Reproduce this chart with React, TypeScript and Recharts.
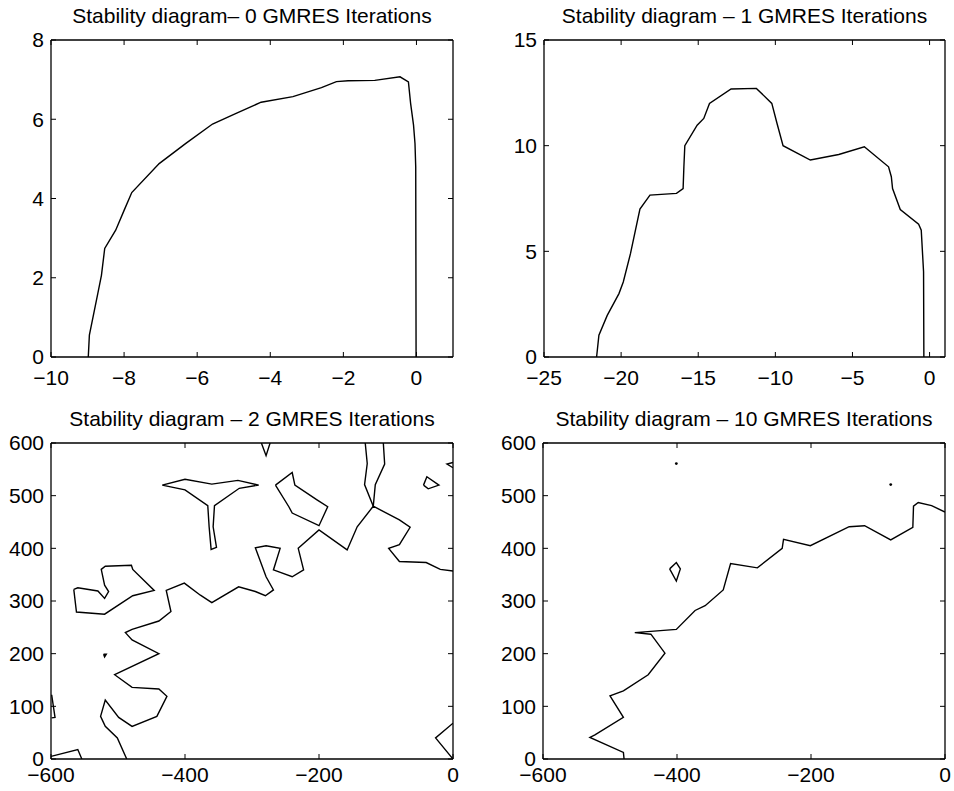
import React from "react";
import { ScatterChart, Scatter, XAxis, YAxis } from "recharts";

type Pt = [number, number];

// 0 GMRES iterations
const P0_X_TICKS = [-10, -8, -6, -4, -2, 0];
const P0_Y_TICKS = [0, 2, 4, 6, 8];
const P0_CURVE: Pt[] = [
  [-8.98, 0], [-8.95, 0.55], [-8.72, 1.6], [-8.62, 2.06], [-8.53, 2.74], [-8.23, 3.2],
  [-8.0, 3.7], [-7.79, 4.15], [-7.04, 4.88], [-6.31, 5.39], [-5.58, 5.88], [-4.98, 6.13],
  [-4.25, 6.43], [-3.38, 6.57], [-2.6, 6.8], [-2.19, 6.95], [-1.87, 6.97], [-1.14, 6.98],
  [-0.45, 7.07], [-0.22, 6.94], [-0.16, 6.4], [-0.08, 5.85], [-0.04, 5.39], [-0.02, 4.8],
  [-0.01, 0],
];

// 1 GMRES iteration
const P1_X_TICKS = [-25, -20, -15, -10, -5, 0];
const P1_Y_TICKS = [0, 5, 10, 15];
const P1_CURVE: Pt[] = [
  [-21.59, 0], [-21.44, 1.03], [-20.9, 1.97], [-20.14, 3.0], [-19.86, 3.55], [-19.39, 4.9],
  [-18.78, 7.0], [-18.13, 7.66], [-16.41, 7.74], [-15.98, 7.97], [-15.93, 9.0], [-15.87, 10.0],
  [-15.07, 10.97], [-14.64, 11.29], [-14.27, 12.0], [-12.87, 12.68], [-11.23, 12.71],
  [-10.23, 12.0], [-9.89, 11.05], [-9.5, 10.0], [-7.73, 9.32], [-5.89, 9.58], [-4.23, 9.95],
  [-2.66, 9.0], [-2.48, 8.53], [-2.4, 7.97], [-1.9, 6.98], [-0.71, 6.28], [-0.54, 6.0],
  [-0.39, 4.03], [-0.37, 0],
];

// 2 and 10 GMRES iterations share the same axes
const BIG_X_TICKS = [-600, -400, -200, 0];
const BIG_Y_TICKS = [0, 100, 200, 300, 400, 500, 600];

const P2_MAIN: Pt[] = [
  [-487, 0], [-501, 40], [-519, 62], [-526, 81], [-519, 112], [-499, 79], [-479, 62],
  [-442, 81], [-427, 119], [-439, 133], [-479, 136], [-505, 160], [-439, 200], [-479, 226],
  [-489, 240], [-479, 246], [-439, 262], [-421, 280], [-428, 320], [-401, 334], [-377, 311],
  [-360, 297], [-320, 327], [-295, 318], [-280, 310], [-268, 321], [-279, 346], [-295, 401],
  [-279, 405], [-258, 400], [-268, 359], [-240, 346], [-223, 359], [-231, 400], [-200, 435],
  [-158, 397], [-143, 441], [-119, 480], [-80, 454], [-64, 440], [-80, 407], [-96, 400],
  [-80, 375], [-40, 373], [-19, 360], [0, 357],
];
const P2_SADDLE_A: Pt[] = [[-131, 600], [-128, 561], [-132, 521], [-119, 480]];
const P2_SADDLE_B: Pt[] = [[-104, 600], [-102, 560], [-116, 521], [-119, 480]];
const P2_TOP_V: Pt[] = [[-286, 600], [-279, 576], [-273, 600]];
const P2_Y_SHAPE: Pt[] = [
  [-434, 520], [-400, 531], [-360, 522], [-321, 529], [-290, 520], [-319, 514], [-356, 481],
  [-358, 441], [-353, 402], [-361, 398], [-364, 441], [-366, 481], [-400, 511], [-434, 520],
];
const P2_QUAD: Pt[] = [
  [-265, 520], [-240, 544], [-236, 520], [-203, 492], [-187, 479], [-200, 443], [-240, 467],
  [-245, 479], [-265, 520],
];
const P2_SMALL_TRI: Pt[] = [[-44, 520], [-39, 536], [-21, 520], [-37, 513], [-44, 520]];
const P2_CORNER_TOP: Pt[] = [[0, 563], [-9, 560], [0, 553]];
const P2_LEFT_C: Pt[] = [
  [-566, 322], [-560, 325], [-530, 319], [-520, 305], [-514, 318], [-520, 330], [-525, 360],
  [-519, 366], [-480, 368], [-478, 360], [-446, 320], [-478, 310], [-520, 275], [-562, 279],
  [-566, 322],
];
const P2_TINY: Pt[] = [[-521.5, 199], [-517.5, 199], [-520, 194], [-521.5, 199]];
const P2_LEFT_EDGE: Pt[] = [[-599, 122], [-594, 79], [-599, 78]];
const P2_CORNER_BL: Pt[] = [[-600, 5], [-560, 18], [-554, 0]];
const P2_CORNER_BR: Pt[] = [[0, 68], [-26, 40], [0, 0]];

// 10 GMRES iterations
const P3_MAIN: Pt[] = [
  [-479, 0], [-480, 12.6], [-530, 41], [-522.5, 46], [-480, 79], [-500, 120], [-480, 129.5],
  [-443, 160], [-418, 201], [-439, 237], [-463, 240], [-401, 246], [-373, 282], [-358, 291],
  [-331, 321], [-320, 371], [-280, 363], [-243, 400], [-241, 417], [-201, 405], [-143, 441],
  [-120, 443], [-81, 416], [-48, 440], [-47, 480], [-40, 487], [-20, 481], [0, 469],
];
const P3_DIAMOND: Pt[] = [[-411, 361], [-401, 373], [-395, 361], [-401, 338], [-411, 361]];
const P3_DOTS: Pt[] = [[-401, 561], [-81, 521]];

const P0_LINES = [P0_CURVE];
const P1_LINES = [P1_CURVE];
const P2_LINES = [
  P2_MAIN, P2_SADDLE_A, P2_SADDLE_B, P2_TOP_V, P2_Y_SHAPE, P2_QUAD, P2_SMALL_TRI,
  P2_CORNER_TOP, P2_LEFT_C, P2_TINY, P2_LEFT_EDGE, P2_CORNER_BL, P2_CORNER_BR,
];
const P3_LINES = [P3_MAIN, P3_DIAMOND];

const FONT = "'Liberation Sans', Arial, Helvetica, sans-serif";
const FS = 21;
const TICK_LEN = 5;
const Y_GAP = 7;
const AXIS = { stroke: "#000", strokeWidth: 1.3 };

const fmt = (v: number) => (v < 0 ? `\u2212${Math.abs(v)}` : `${v}`);
const toObj = (pts: Pt[]) => pts.map(([x, y]) => ({ x, y }));
const noShape = () => <g />;
const dotShape = (p: any) => <circle cx={p.cx} cy={p.cy} r={1.4} fill="#000" />;

// matlab style: ticks point into the box
const bottomTick = (gap: number) => (p: any) => (
  <g>
    <line x1={p.x} x2={p.x} y1={p.y - gap} y2={p.y - gap - TICK_LEN} stroke="#000" />
    <text x={p.x} y={p.y} dy="0.71em" textAnchor="middle" fill="#000" fontSize={FS} fontFamily={FONT}>
      {fmt(p.payload.value)}
    </text>
  </g>
);
const leftTick = (p: any) => (
  <g>
    <line x1={p.x + Y_GAP} x2={p.x + Y_GAP + TICK_LEN} y1={p.y} y2={p.y} stroke="#000" />
    <text x={p.x} y={p.y} dy="0.355em" textAnchor="end" fill="#000" fontSize={FS} fontFamily={FONT}>
      {fmt(p.payload.value)}
    </text>
  </g>
);
const topTick = (p: any) => <line x1={p.x} x2={p.x} y1={p.y} y2={p.y + TICK_LEN} stroke="#000" />;
const rightTick = (p: any) => <line x1={p.x} x2={p.x - TICK_LEN} y1={p.y} y2={p.y} stroke="#000" />;

interface PanelProps {
  title: string;
  xDomain: [number, number];
  xTicks: number[];
  yDomain: [number, number];
  yTicks: number[];
  lines: Pt[][];
  dots?: Pt[];
  left: number;
  top: number;
  w: number;
  h: number;
  yAxisW: number;
  mRight: number;
  mTop: number;
  mBottom: number;
  xGap: number;
}

function Panel(p: PanelProps) {
  const plotCenter = p.yAxisW + (p.w - p.yAxisW - p.mRight) / 2;
  return (
    <div style={{ position: "absolute", left: p.left, top: p.top, width: p.w, height: p.h }}>
      <div
        style={{
          position: "absolute",
          left: plotCenter - 250,
          width: 500,
          top: p.mTop - 35,
          textAlign: "center",
          fontFamily: FONT,
          fontSize: FS,
          lineHeight: `${FS}px`,
          color: "#000",
          whiteSpace: "nowrap",
        }}
      >
        {p.title}
      </div>
      <ScatterChart
        width={p.w}
        height={p.h}
        margin={{ top: p.mTop - 1, right: p.mRight - 1, bottom: p.mBottom, left: 0 }}
      >
        <XAxis
          xAxisId="b"
          type="number"
          dataKey="x"
          domain={p.xDomain}
          ticks={p.xTicks}
          interval={0}
          allowDataOverflow
          tick={bottomTick(p.xGap)}
          tickLine={false}
          tickSize={0}
          tickMargin={p.xGap}
          height={30}
          axisLine={AXIS}
        />
        <XAxis
          xAxisId="t"
          orientation="top"
          type="number"
          dataKey="x"
          domain={p.xDomain}
          ticks={p.xTicks}
          interval={0}
          allowDataOverflow
          tick={topTick}
          tickLine={false}
          tickSize={0}
          tickMargin={0}
          height={1}
          axisLine={AXIS}
        />
        <YAxis
          yAxisId="l"
          type="number"
          dataKey="y"
          domain={p.yDomain}
          ticks={p.yTicks}
          interval={0}
          allowDataOverflow
          tick={leftTick}
          tickLine={false}
          tickSize={0}
          tickMargin={Y_GAP}
          width={p.yAxisW}
          axisLine={AXIS}
        />
        <YAxis
          yAxisId="r"
          orientation="right"
          type="number"
          dataKey="y"
          domain={p.yDomain}
          ticks={p.yTicks}
          interval={0}
          allowDataOverflow
          tick={rightTick}
          tickLine={false}
          tickSize={0}
          tickMargin={0}
          width={1}
          axisLine={AXIS}
        />
        {p.lines.map((pts, i) => (
          <Scatter
            key={i}
            xAxisId="b"
            yAxisId="l"
            data={toObj(pts)}
            line={{ stroke: "#000", strokeWidth: 1.4 }}
            shape={noShape}
            isAnimationActive={false}
          />
        ))}
        {p.dots && (
          <Scatter
            xAxisId="b"
            yAxisId="l"
            data={toObj(p.dots)}
            shape={dotShape}
            isAnimationActive={false}
          />
        )}
      </ScatterChart>
    </div>
  );
}

export default function App() {
  return (
    <div style={{ position: "absolute", left: 0, top: 0, width: 954, height: 791, background: "#fff" }}>
      <Panel
        title="Stability diagram– 0 GMRES Iterations"
        xDomain={[-10, 1]}
        xTicks={P0_X_TICKS}
        yDomain={[0, 8]}
        yTicks={P0_Y_TICKS}
        lines={P0_LINES}
        left={0}
        top={0}
        w={477}
        h={395}
        yAxisW={51}
        mRight={24}
        mTop={40}
        mBottom={8}
        xGap={13}
      />
      <Panel
        title="Stability diagram – 1 GMRES Iterations"
        xDomain={[-25, 1]}
        xTicks={P1_X_TICKS}
        yDomain={[0, 15]}
        yTicks={P1_Y_TICKS}
        lines={P1_LINES}
        left={477}
        top={0}
        w={477}
        h={395}
        yAxisW={67}
        mRight={9}
        mTop={40}
        mBottom={8}
        xGap={13}
      />
      <Panel
        title="Stability diagram – 2 GMRES Iterations"
        xDomain={[-600, 0]}
        xTicks={BIG_X_TICKS}
        yDomain={[0, 600]}
        yTicks={BIG_Y_TICKS}
        lines={P2_LINES}
        left={0}
        top={395}
        w={477}
        h={396}
        yAxisW={51}
        mRight={24}
        mTop={48}
        mBottom={2}
        xGap={8}
      />
      <Panel
        title="Stability diagram – 10 GMRES Iterations"
        xDomain={[-600, 0]}
        xTicks={BIG_X_TICKS}
        yDomain={[0, 600]}
        yTicks={BIG_Y_TICKS}
        lines={P3_LINES}
        dots={P3_DOTS}
        left={477}
        top={395}
        w={477}
        h={396}
        yAxisW={66}
        mRight={9}
        mTop={48}
        mBottom={2}
        xGap={8}
      />
    </div>
  );
}
